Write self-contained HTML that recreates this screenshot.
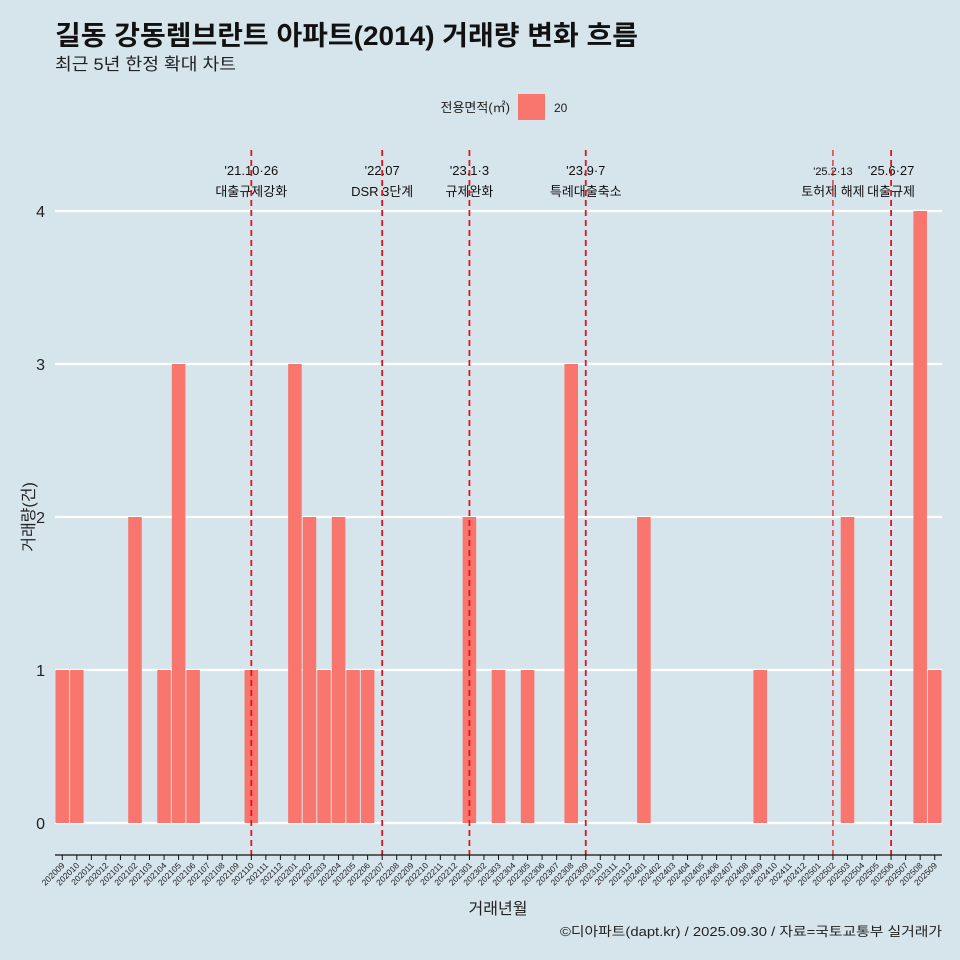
<!DOCTYPE html>
<html><head><meta charset="utf-8">
<style>
html,body{margin:0;padding:0;background:#d6e4eb;}
svg{display:block;font-family:"Liberation Sans","Noto Sans CJK KR",sans-serif;}
</style></head>
<body>
<svg id="chart" width="960" height="960" viewBox="0 0 960 960" xmlns="http://www.w3.org/2000/svg">
<rect width="960" height="960" fill="#d6e4eb"/>
<text x="55" y="45" font-size="27" font-weight="bold" fill="#111" textLength="583" lengthAdjust="spacingAndGlyphs">길동 강동렘브란트 아파트(2014) 거래량 변화 흐름</text>
<text x="55" y="70" font-size="17" fill="#222" textLength="181" lengthAdjust="spacingAndGlyphs">최근 5년 한정 확대 차트</text>
<g>
<text x="510" y="112" font-size="13" text-anchor="end" fill="#222">전용면적(㎡)</text>
<rect x="518" y="94" width="27" height="26" fill="#f8766d"/>
<text x="554" y="112" font-size="12" fill="#222">20</text>
</g>
<g id="grid"></g><g id="bars"></g><g id="vlines"></g><g id="axes"></g>
<text x="0" y="0" transform="translate(34,517) rotate(-90)" font-size="16" text-anchor="middle" fill="#222">거래량(건)</text>
<text x="498" y="914" font-size="16" text-anchor="middle" fill="#222">거래년월</text>
<text x="560" y="936" font-size="13" fill="#222" textLength="382" lengthAdjust="spacingAndGlyphs">©디아파트(dapt.kr) / 2025.09.30 / 자료=국토교통부 실거래가</text>
</svg>
<script>
const categories=[];
for(let y=2020,m=9;;){categories.push(''+y+String(m).padStart(2,'0'));if(y===2025&&m===9)break;m++;if(m>12){m=1;y++;}}
const valueMonths=['202009','202010','202102','202104','202105','202106','202110','202201','202202','202203','202204','202205','202206','202301','202303','202305','202308','202401','202409','202503','202508','202509'];
const valueCounts=[1,1,2,1,3,1,1,3,2,1,2,1,1,2,1,1,3,2,1,2,4,1];
const yTicks=[0,1,2,3,4];
const eventMonths=['202110','202207','202301','202309','202502','202506'];
const eventLine1=["'21.10·26","'22.07","'23.1·3","'23.9·7","'25.2·13","'25.6·27"];
const eventLine2=['대출규제강화','DSR 3단계','규제완화','특례대출축소','토허제 해제','대출규제'];

const NS='http://www.w3.org/2000/svg';
const X0=55,X1=942,Y0=823,YPX=153;
const slot=(X1-X0)/categories.length;
const xc=c=>X0+slot*(categories.indexOf(c)+0.5);
const yv=v=>Y0-v*YPX;
function mk(tag,attrs,parent,txt){const e=document.createElementNS(NS,tag);for(const k in attrs)e.setAttribute(k,attrs[k]);if(txt!==undefined)e.textContent=txt;parent.appendChild(e);return e;}
const grid=document.getElementById('grid'),bars=document.getElementById('bars'),vl=document.getElementById('vlines'),ax=document.getElementById('axes');
yTicks.forEach(t=>{
 const l=mk('line',{x1:X0,x2:X1,y1:yv(t),y2:yv(t),stroke:'#fff','stroke-width':2.2},grid);
 
 
 const tx=mk('text',{x:45,y:yv(t)+6,'font-size':16,'text-anchor':'end',fill:'#222'},ax,String(t));
 
 
});
valueMonths.forEach((c,i)=>{
 const x=xc(c),v=valueCounts[i];
 const r=mk('rect',{x:x-slot/2+0.5,y:yv(v),width:slot-1,height:v*YPX,fill:'#f8766d'},bars);
 
 
});
eventMonths.forEach((c,i)=>{
 const x=xc(c);
 const t1=mk('text',{x:x,y:175,'font-size':i===4?11:13,'text-anchor':'middle',fill:'#111'},vl,eventLine1[i]);
 
 
 const t2=mk('text',{x:x,y:196,'font-size':13,'text-anchor':'middle',fill:'#111'},vl,eventLine2[i]);
 
 
 const l=mk('line',{x1:x,x2:x,y1:150,y2:855,stroke:'#e8101a','stroke-width':i===4?1.2:1.8,'stroke-dasharray':'6,4'},vl);
 
 
});
const al=mk('line',{x1:X0,x2:X1,y1:855,y2:855,stroke:'#111','stroke-width':1.2},ax);


categories.forEach(c=>{
 const x=xc(c);
 const tk=mk('line',{x1:x,x2:x,y1:855,y2:860,stroke:'#111','stroke-width':1},ax);
 
 
 const t=mk('text',{x:0,y:0,'font-size':8.5,'text-anchor':'end',fill:'#222',transform:`translate(${x+3},${866}) rotate(-45)`},ax,c);
 
 
});
</script>
</body></html>
